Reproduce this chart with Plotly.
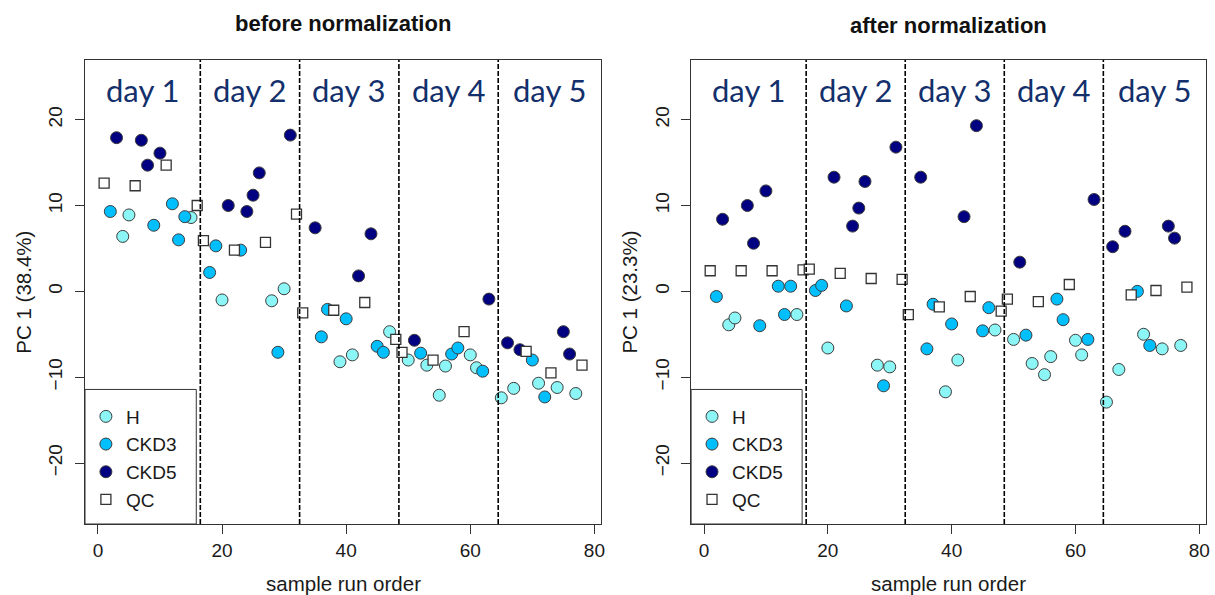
import plotly.graph_objects as go

# ---------------- data (sample run order, PC1 scores) ----------------
h_x = [4, 5, 15, 20, 28, 30, 39, 41, 47, 50, 53, 55, 56, 60, 61, 65, 67, 71, 74, 77]
h_before = [6.4, 8.9, 8.6, -1.0, -1.1, 0.3, -8.2, -7.4, -4.7, -8.0, -8.6, -12.1, -8.7, -7.4, -8.9,
            -12.4, -11.3, -10.7, -11.2, -11.9]
h_after = [-3.9, -3.1, -2.7, -6.6, -8.6, -8.8, -11.7, -8.0, -4.5, -5.6, -8.4, -9.7, -7.6, -5.7, -7.4,
           -12.9, -9.1, -5.0, -6.7, -6.3]

ckd3_x = [2, 9, 12, 13, 14, 18, 19, 23, 29, 36, 37, 40, 45, 46, 52, 57, 58, 62, 70, 72]
ckd3_before = [9.3, 7.7, 10.2, 6.0, 8.7, 2.2, 5.3, 4.8, -7.1, -5.3, -2.1, -3.2, -6.4, -7.1, -7.2, -7.3,
               -6.6, -9.3, -8.0, -12.3]
ckd3_after = [-0.6, -4.0, 0.6, -2.7, 0.6, 0.1, 0.7, -1.7, -11.0, -6.7, -1.5, -3.8, -4.6, -1.9, -5.1,
              -0.9, -3.3, -5.6, 0.0, -6.3]

ckd5_x = [3, 7, 8, 10, 21, 24, 25, 26, 31, 35, 42, 44, 51, 63, 66, 68, 75, 76]
ckd5_before = [17.9, 17.6, 14.7, 16.1, 10.0, 9.3, 11.2, 13.8, 18.2, 7.4, 1.8, 6.7, -5.7, -0.9, -6.0,
               -6.8, -4.7, -7.3]
ckd5_after = [8.4, 10.0, 5.6, 11.7, 13.3, 7.6, 9.7, 12.8, 16.8, 13.3, 8.7, 19.3, 3.4, 10.7, 5.2, 7.0,
              7.6, 6.2]

qc_x = [1, 6, 11, 16, 17, 22, 27, 32, 33, 38, 43, 48, 49, 54, 59, 69, 73, 78]
qc_before = [12.6, 12.3, 14.7, 10.0, 5.9, 4.8, 5.7, 9.0, -2.5, -2.2, -1.3, -5.6, -7.1, -8.0, -4.7,
             -7.0, -9.5, -8.6]
qc_after = [2.4, 2.4, 2.4, 2.5, 2.6, 2.1, 1.5, 1.4, -2.7, -1.8, -0.6, -2.3, -0.9, -1.2, 0.8, -0.4,
            0.1, 0.5]

day_labels = ["day 1", "day 2", "day 3", "day 4", "day 5"]
day_bounds = [16.5, 32.5, 48.5, 64.5]
x_ticks = [0, 20, 40, 60, 80]
y_ticks = [-20, -10, 0, 10, 20]
panel_titles = ["before normalization", "after normalization"]
y_titles = ["PC 1 (38.4%)", "PC 1 (23.3%)"]
x_title = "sample run order"

# ---------------- styling ----------------
FONT = "Liberation Sans, Arial, Helvetica, sans-serif"
XR = [-2.08, 81.08]
YR = [-27.1, 26.95]
col_h, col_c3, col_c5 = "#8CF6F6", "#00BFFF", "#000080"
edge = "#3c3c3c"

fig = go.Figure()

groups = [
    ("H", h_x, h_before, h_after, dict(symbol="circle", color=col_h, size=12, line=dict(color=edge, width=1))),
    ("CKD3", ckd3_x, ckd3_before, ckd3_after, dict(symbol="circle", color=col_c3, size=12, line=dict(color=edge, width=1))),
    ("CKD5", ckd5_x, ckd5_before, ckd5_after, dict(symbol="circle", color=col_c5, size=12, line=dict(color=edge, width=1))),
    ("QC", qc_x, qc_before, qc_after, dict(symbol="square", color="white", size=10, line=dict(color="#333333", width=1.3))),
]

for name, xs, yb, ya, mk in groups:
    fig.add_trace(go.Scatter(x=xs, y=yb, mode="markers", name=name, marker=mk,
                             xaxis="x", yaxis="y", legend="legend", showlegend=True))
for name, xs, yb, ya, mk in groups:
    fig.add_trace(go.Scatter(x=xs, y=ya, mode="markers", name=name, marker=mk,
                             xaxis="x2", yaxis="y2", legend="legend2", showlegend=True))

dom1 = [0, 0.4604]
dom2 = [0.5407, 1.0]

ax_common = dict(showgrid=False, zeroline=False, showline=True, mirror=True, linecolor="#333333",
                 linewidth=1, ticks="outside", ticklen=9, tickwidth=1, tickcolor="#333333",
                 tickfont=dict(family=FONT, size=19, color="#1a1a1a"))

leg_common = dict(xanchor="left", y=0.2726, yanchor="top", bgcolor="rgba(0,0,0,0)",
                  borderwidth=0, font=dict(family=FONT, size=19, color="#1a1a1a"),
                  tracegroupgap=0, itemclick=False)

fig.update_layout(
    width=1215, height=595,
    margin=dict(l=85, r=5, t=60, b=71),
    plot_bgcolor="white", paper_bgcolor="white",
    font=dict(family=FONT, size=19, color="#1a1a1a"),
    xaxis=dict(domain=dom1, range=XR, tickvals=x_ticks, anchor="y", ticklabelstandoff=0, **ax_common),
    yaxis=dict(domain=[0, 1], range=YR, tickvals=y_ticks, anchor="x", tickangle=-90,
               ticklabelstandoff=5, **ax_common),
    xaxis2=dict(domain=dom2, range=XR, tickvals=x_ticks, anchor="y2", ticklabelstandoff=0, **ax_common),
    yaxis2=dict(domain=[0, 1], range=YR, tickvals=y_ticks, anchor="x2", tickangle=-90,
                ticklabelstandoff=5, **ax_common),
    legend=dict(x=0.0008, **leg_common),
    legend2=dict(x=dom2[0] + 0.0008, **leg_common),
)

shapes = []
annotations = []
for i, (xa, ya) in enumerate([("x", "y"), ("x2", "y2")]):
    # legend frame
    shapes.append(dict(type="rect", xref=f"{xa} domain", yref=f"{ya} domain", x0=0, x1=0.2156,
                       y0=0, y1=0.29, line=dict(color="#333333", width=1), fillcolor="white",
                       layer="below"))
    # day dividers
    for b in day_bounds:
        shapes.append(dict(type="line", xref=xa, yref=f"{ya} domain", x0=b, x1=b, y0=0, y1=1,
                           line=dict(color="black", width=1.6, dash="5px,2px")))
    # day labels
    edges = [XR[0]] + day_bounds + [XR[1]]
    for k, lab in enumerate(day_labels):
        annotations.append(dict(text=lab, xref=xa, yref=f"{ya} domain", x=(edges[k] + edges[k + 1]) / 2,
                                y=0.935, showarrow=False, xanchor="center", yanchor="middle",
                                font=dict(family="Lato, Carlito, Calibri, sans-serif", size=31,
                                          color="#13306C")))

# titles
annotations.append(dict(text="<b>" + panel_titles[0] + "</b>", xref="paper", yref="paper", x=0.2302,
                        y=1.0797, showarrow=False, xanchor="center", yanchor="middle",
                        font=dict(family=FONT, size=22, color="#111111")))
annotations.append(dict(text="<b>" + panel_titles[1] + "</b>", xref="paper", yref="paper", x=0.770,
                        y=1.0733, showarrow=False, xanchor="center", yanchor="middle",
                        font=dict(family=FONT, size=22, color="#111111")))
# axis titles
for xc in [0.2302, 0.770]:
    annotations.append(dict(text=x_title, xref="paper", yref="paper", x=xc, y=-0.1293, showarrow=False,
                            xanchor="center", yanchor="middle", font=dict(family=FONT, size=20.5, color="#1a1a1a")))
for xc, t in zip([-0.0556, 0.4849], y_titles):
    annotations.append(dict(text=t, xref="paper", yref="paper", x=xc, y=0.5, showarrow=False, textangle=-90,
                            xanchor="center", yanchor="middle", font=dict(family=FONT, size=20.5, color="#1a1a1a")))

fig.update_layout(shapes=shapes, annotations=annotations)
fig.write_html("out.html")
